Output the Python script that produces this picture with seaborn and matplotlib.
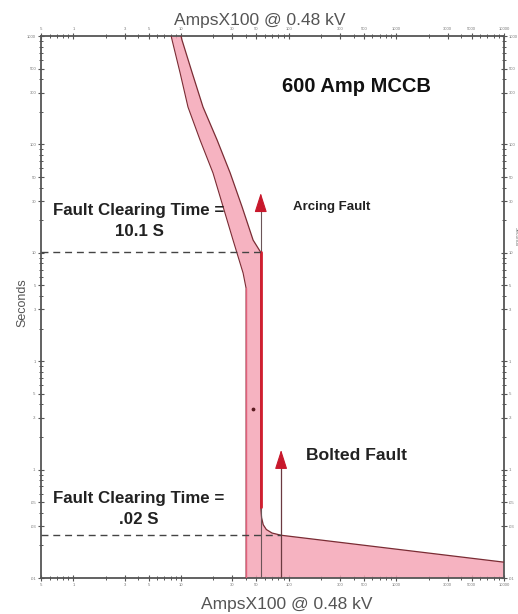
import numpy as np
import pandas as pd
import matplotlib
matplotlib.use("Agg")
import matplotlib.pyplot as plt
from matplotlib.ticker import FixedLocator, FixedFormatter, NullFormatter
import seaborn as sns

# ---- data ----
# minimum-melt / left boundary of the MCCB band (Amps x100, seconds)
left_amps = [8.1, 8.25, 9.8, 11.6, 15.0, 19.8, 24.6, 30.4, 37.7, 40.2, 40.2]
left_secs = [1000, 919, 456, 221, 110, 54.5, 26.5, 13.1, 6.5, 4.7, 0.01]
# maximum-clearing / right boundary of the MCCB band
right_amps = [10.0, 10.2, 12.7, 16.0, 21.6, 28.6, 36.9, 46.7, 55.0, 55.0, 56.0, 58.0, 62.0, 70.0, 85.0, 10000]
right_secs = [1000, 919, 456, 221, 110, 54.5, 26.5, 13.1, 10.1, 0.045, 0.036, 0.031, 0.028, 0.026, 0.0248, 0.014]

arcing_fault_amps = 55.0
arcing_arrow_tip = 35.6
arcing_clear_time = 10.1
bolted_fault_amps = 85.0
bolted_arrow_tip = 0.152
bolted_clear_time = 0.025
stray_point = (46.7, 0.36)

x_tick_vals = [0.5, 1, 3, 5, 10, 30, 50, 100, 300, 500, 1000, 3000, 5000, 10000]
x_tick_labels = [".5", "1", "3", "5", "10", "30", "50", "100", "300", "500", "1000", "3000", "5000", "10000"]
y_tick_vals = [0.01, 0.03, 0.05, 0.1, 0.3, 0.5, 1, 3, 5, 10, 30, 50, 100, 300, 500, 1000]
y_tick_labels = [".01", ".03", ".05", ".1", ".3", ".5", "1", "3", "5", "10", "30", "50", "100", "300", "500", "1000"]

# ---- style ----
sns.set_theme(style="ticks")
plt.rcParams["font.family"] = ["Liberation Sans", "DejaVu Sans"]

fig = plt.figure(figsize=(5.18, 6.14), dpi=100)
ax = fig.add_axes([41 / 518, 36 / 614, 463 / 518, 542 / 614])
ax.set_xscale("log")
ax.set_yscale("log")
ax.set_xlim(0.5, 10000)
ax.set_ylim(0.01, 1000)

band_fill = "#f5a6b6"
edge = "#7a2c34"
red = "#d21f30"

# band polygon
poly_x = list(left_amps) + [10000] + list(right_amps[::-1])
poly_y = list(left_secs) + [0.01] + list(right_secs[::-1])
ax.fill(poly_x, poly_y, color=band_fill, alpha=0.85, lw=0, zorder=1)

df_l = pd.DataFrame({"amps": left_amps, "secs": left_secs})
df_r = pd.DataFrame({"amps": right_amps, "secs": right_secs})
sns.lineplot(data=df_l, x="amps", y="secs", sort=False, estimator=None,
             color=edge, lw=0.8, ax=ax, zorder=3)
sns.lineplot(data=df_r, x="amps", y="secs", sort=False, estimator=None,
             color=edge, lw=0.9, ax=ax, zorder=3)
# left vertical edge reddish
ax.plot([left_amps[-2], left_amps[-1]], [left_secs[-2], left_secs[-1]], color="#e0607a", lw=1.0, zorder=3)

# red instantaneous segment along arcing fault
ax.plot([arcing_fault_amps, arcing_fault_amps], [arcing_clear_time, right_secs[9]], color=red, lw=2.0, zorder=4)

# arcing fault arrow
ax.plot([arcing_fault_amps, arcing_fault_amps], [0.01, arcing_arrow_tip * 0.8], color="#6b5558", lw=0.8, zorder=3)
ax.annotate("", xy=(arcing_fault_amps, arcing_arrow_tip), xytext=(arcing_fault_amps, arcing_arrow_tip * 0.8),
            arrowprops=dict(arrowstyle="-|>,head_length=1.0,head_width=0.32", color="#c8182c", lw=0.8,
                            shrinkA=0, shrinkB=0), zorder=5)
# bolted fault arrow
ax.plot([bolted_fault_amps, bolted_fault_amps], [0.01, bolted_arrow_tip * 0.8], color="#6b3a40", lw=0.9, zorder=3)
ax.annotate("", xy=(bolted_fault_amps, bolted_arrow_tip), xytext=(bolted_fault_amps, bolted_arrow_tip * 0.8),
            arrowprops=dict(arrowstyle="-|>,head_length=1.0,head_width=0.32", color="#c8182c", lw=0.8,
                            shrinkA=0, shrinkB=0), zorder=5)

# dashed clearing-time lines
ax.plot([0.5, arcing_fault_amps], [arcing_clear_time, arcing_clear_time], color="#444444", lw=1.0,
        dashes=(5, 3.5), zorder=4)
ax.plot([0.5, bolted_fault_amps], [bolted_clear_time, bolted_clear_time], color="#444444", lw=1.0,
        dashes=(5, 3.5), zorder=4)

ax.scatter([stray_point[0]], [stray_point[1]], s=3, color="#5a1a20", zorder=5)

# ---- axes / ticks ----
def minor_vals(lo_exp, hi_exp, skip):
    out = []
    for e in range(lo_exp, hi_exp):
        for m in range(2, 10):
            v = m * 10.0 ** e
            if not any(abs(v - s) / s < 1e-6 for s in skip):
                out.append(v)
    return out

ax.xaxis.set_major_locator(FixedLocator(x_tick_vals))
ax.xaxis.set_major_formatter(FixedFormatter(x_tick_labels))
ax.xaxis.set_minor_locator(FixedLocator([v for v in minor_vals(-1, 4, x_tick_vals) if 0.5 <= v <= 10000]))
ax.xaxis.set_minor_formatter(NullFormatter())
ax.yaxis.set_major_locator(FixedLocator(y_tick_vals))
ax.yaxis.set_major_formatter(FixedFormatter(y_tick_labels))
ax.yaxis.set_minor_locator(FixedLocator(minor_vals(-2, 3, y_tick_vals)))
ax.yaxis.set_minor_formatter(NullFormatter())

ax.tick_params(which="both", direction="inout", top=True, right=True, labeltop=True, labelright=True,
               colors="#555555", labelcolor="#777777", labelsize=3, pad=1.5)
ax.tick_params(which="major", length=4, width=0.8)
ax.tick_params(which="minor", length=3, width=0.7)
for s in ax.spines.values():
    s.set_color("#555555")
    s.set_linewidth(1.3)
    s.set_visible(True)
ax.set_xlabel("")
ax.set_ylabel("")

# ---- texts ----
def axf(px, py):
    return ((px - 41) / 463, (578 - py) / 542)

tf = ax.transAxes
ax.text(*axf(356, 87), "600 Amp MCCB", transform=tf, ha="center", va="center",
        fontsize=14.5, fontweight="bold", color="#111111")
ax.text(*axf(293, 207), "Arcing Fault", transform=tf, ha="left", va="center",
        fontsize=9.5, fontweight="bold", color="#222222")
ax.text(*axf(139, 211), "Fault Clearing Time =", transform=tf, ha="center", va="center",
        fontsize=12.2, fontweight="bold", color="#222222")
ax.text(*axf(139, 232), "10.1 S", transform=tf, ha="center", va="center",
        fontsize=12.2, fontweight="bold", color="#222222")
ax.text(*axf(306, 455), "Bolted Fault", transform=tf, ha="left", va="center",
        fontsize=12.6, fontweight="bold", color="#222222")
ax.text(*axf(139, 498), "Fault Clearing Time =", transform=tf, ha="center", va="center",
        fontsize=12.2, fontweight="bold", color="#222222")
ax.text(*axf(139, 519), ".02 S", transform=tf, ha="center", va="center",
        fontsize=12.2, fontweight="bold", color="#222222")

fig.text(260 / 518, 1 - 20 / 614, "AmpsX100 @ 0.48 kV", ha="center", va="center", fontsize=12.5, color="#555555")
fig.text(287 / 518, 1 - 605 / 614, "AmpsX100 @ 0.48 kV", ha="center", va="center", fontsize=12.5, color="#555555")
fig.text(22 / 518, 1 - 303 / 614, "Seconds", rotation=90, ha="center", va="center", fontsize=9, color="#555555")
fig.text(516 / 518, 1 - 237 / 614, "Seconds", rotation=-90, ha="center", va="center", fontsize=3.5, color="#777777")

fig.savefig("out.png", dpi=100)
